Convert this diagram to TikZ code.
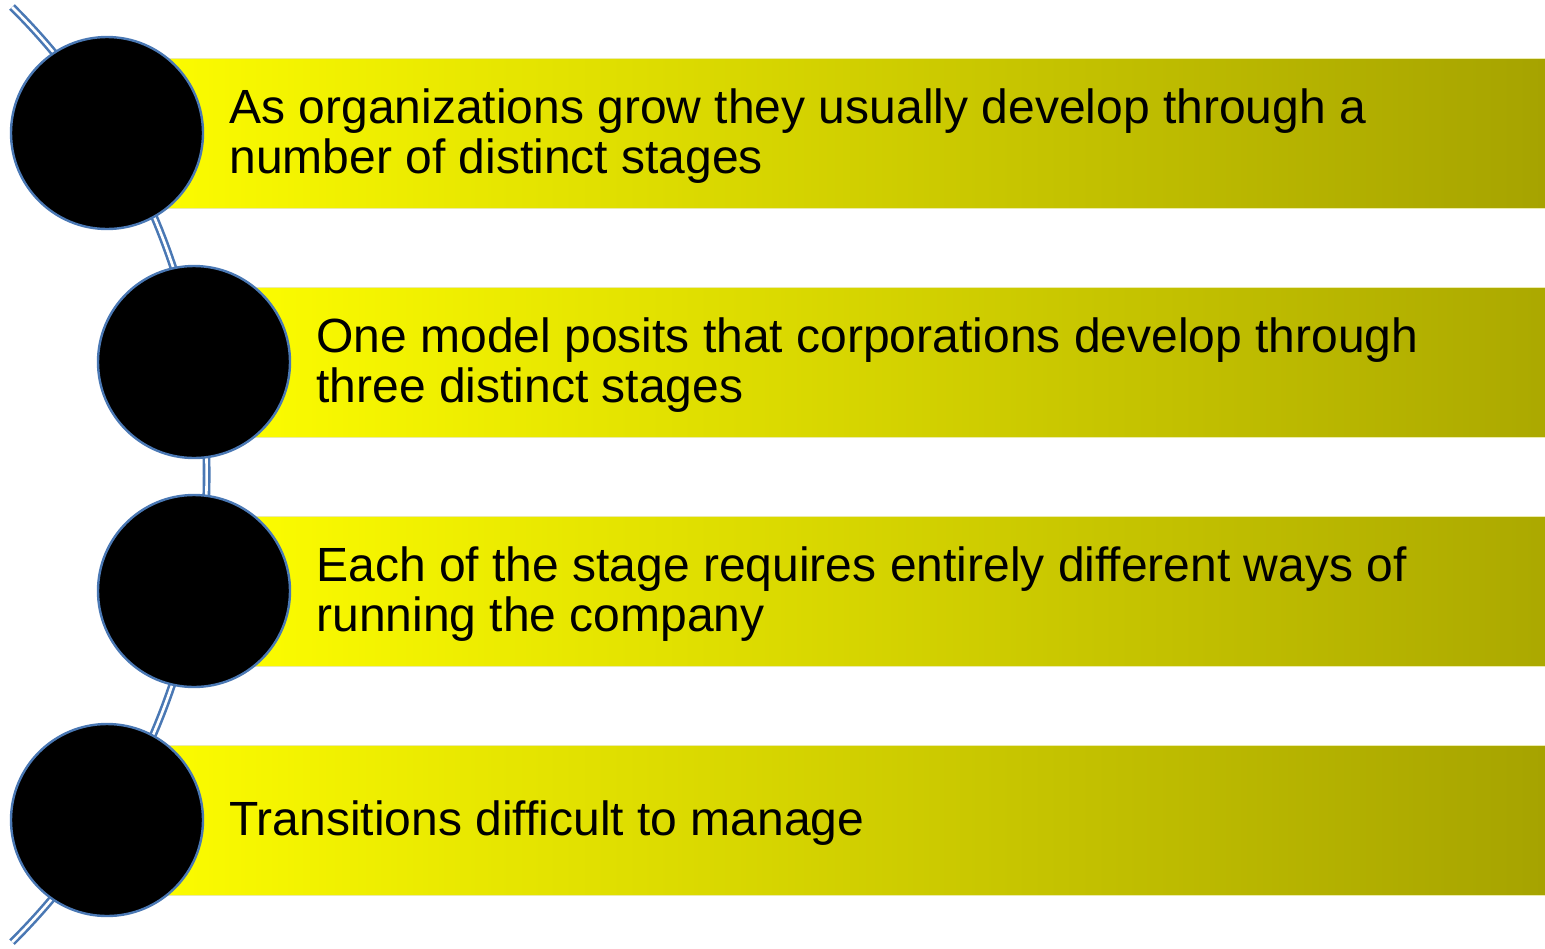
\documentclass[tikz,border=0pt]{standalone}
\usepackage{fontspec}
\setmainfont{Liberation Sans}
\definecolor{barleft}{RGB}{255,255,0}
\definecolor{barright}{RGB}{166,163,0}
\definecolor{ringblue}{RGB}{74,120,180}
\definecolor{baredge}{RGB}{235,235,170}

\begin{document}
\begin{tikzpicture}[x=0.5pt, y=-0.5pt,
    bar/.style={rectangle, draw=baredge, line width=0.5pt, left color=barleft, right color=barright,
                minimum width=719pt, minimum height=75pt, inner sep=0pt, anchor=west},
    stage/.style={circle, draw=ringblue, line width=1.2pt, fill=black, minimum size=96pt, inner sep=0pt},
    txt/.style={anchor=west, align=left, inner sep=0pt, font=\fontsize{24}{25}\selectfont},
    spine/.style={draw=ringblue, double=white, double distance=1.3pt, line width=1.3pt}]
    \useasboundingbox (0, 0) rectangle (1545, 948);
    % bars
    \node [bar]      (b1) at (107, 133) {};
    \node [bar]      (b2) at (194, 362) {};
    \node [bar]      (b3) at (194, 591) {};
    \node [bar]      (b4) at (107, 820) {};
    % spine
    \coordinate      (top) at (12, 7);
    \draw [spine]    (top) arc [start angle=-45.2, end angle=45.2, radius=659];
    % S1
    \node [stage]    (c1) at (107, 133) {};
    \node [txt]      (t1) at (229, 136) {As organizations grow they usually develop through a\\number of distinct stages};
    % S2
    \node [stage]    (c2) at (194, 362) {};
    \node [txt]      (t2) at (316, 365) {One model posits that corporations develop through\\three distinct stages};
    % S3
    \node [stage]    (c3) at (194, 591) {};
    \node [txt]      (t3) at (316, 594) {Each of the stage requires entirely different ways of\\running the company};
    % S4
    \node [stage]    (c4) at (107, 820) {};
    \node [txt]      (t4) at (229, 823) {Transitions difficult to manage};
\end{tikzpicture}
\end{document}
